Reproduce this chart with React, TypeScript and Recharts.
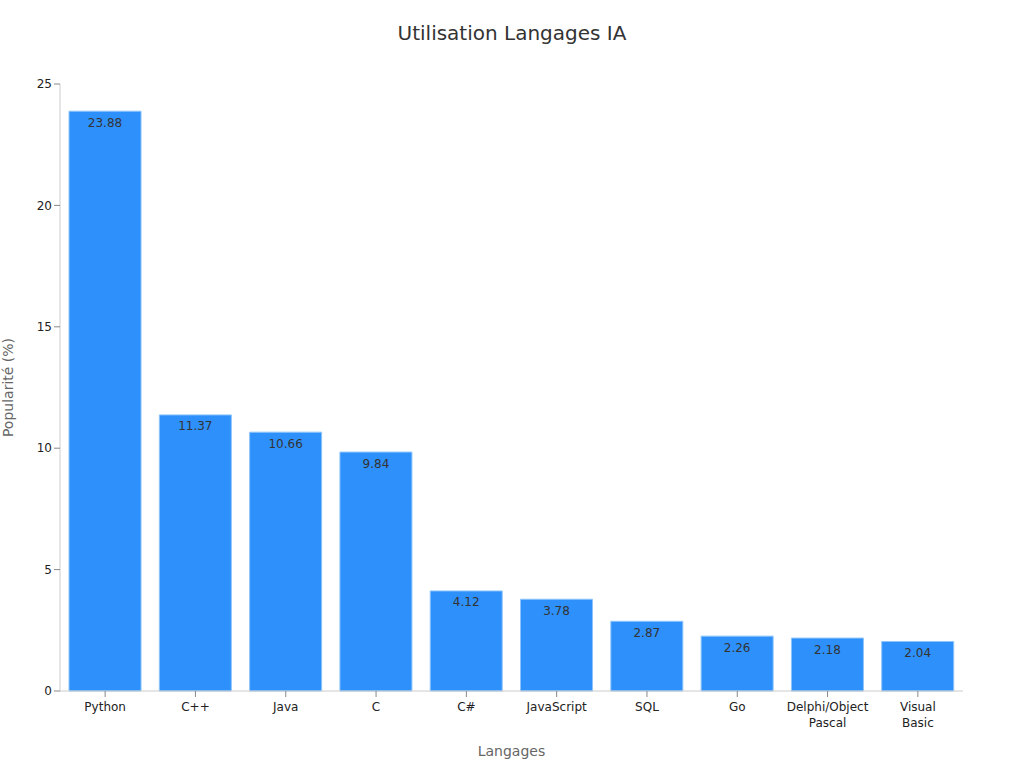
import React from 'react';
import { BarChart, Bar, XAxis, YAxis, LabelList } from 'recharts';

const languages = ['Python', 'C++', 'Java', 'C', 'C#', 'JavaScript', 'SQL', 'Go', 'Delphi/Object Pascal', 'Visual Basic'];
const popularity = [23.88, 11.37, 10.66, 9.84, 4.12, 3.78, 2.87, 2.26, 2.18, 2.04];
const yTicks = [0, 5, 10, 15, 20, 25];

const data = languages.map((name, i) => ({ name, value: popularity[i] }));

const font = 'DejaVu Sans, sans-serif';

// splits multi-word names onto separate lines
const WrapTick = (props: any) => {
  const { x, y, payload } = props;
  const lines = String(payload.value).split(' ');
  return (
    <g transform={`translate(${x},${y})`}>
      <text textAnchor="middle" fill="#222" fontSize={12} fontFamily={font}>
        {lines.map((l, i) => (
          <tspan key={i} x={0} dy={i === 0 ? 12 : 16}>{l}</tspan>
        ))}
      </text>
    </g>
  );
};

export default function App() {
  return (
    <div style={{ position: 'absolute', left: 0, top: 0, width: 1024, height: 768, background: '#fff', fontFamily: font }}>
      <div style={{ position: 'absolute', top: 21, width: 1024, textAlign: 'center', fontSize: 20, color: '#333' }}>
        Utilisation Langages IA
      </div>
      <BarChart
        width={1024}
        height={768}
        data={data}
        margin={{ top: 84, right: 61, left: 0, bottom: 16 }}
        barCategoryGap="10%"
      >
        <XAxis
          dataKey="name"
          interval={0}
          height={61}
          tick={<WrapTick />}
          tickLine={{ stroke: '#888' }}
          axisLine={{ stroke: '#ccc' }}
          label={{ value: 'Langages', position: 'insideBottom', offset: -4, fill: '#666', fontSize: 14, fontFamily: font }}
        />
        <YAxis
          width={60}
          domain={[0, 25]}
          ticks={yTicks}
          tick={{ fill: '#222', fontSize: 12, fontFamily: font }}
          tickLine={{ stroke: '#888' }}
          axisLine={{ stroke: '#ccc' }}
          label={{ value: 'Popularité (%)', angle: -90, position: 'insideLeft', offset: 8, fill: '#666', fontSize: 14, fontFamily: font, style: { textAnchor: 'middle' } }}
        />
        <Bar dataKey="value" fill="#2e90fa" stroke="#8cc4fb" strokeWidth={1} isAnimationActive={false}>
          <LabelList dataKey="value" position="insideTop" offset={7} fill="#333" fontSize={12} fontFamily={font} />
        </Bar>
      </BarChart>
    </div>
  );
}
